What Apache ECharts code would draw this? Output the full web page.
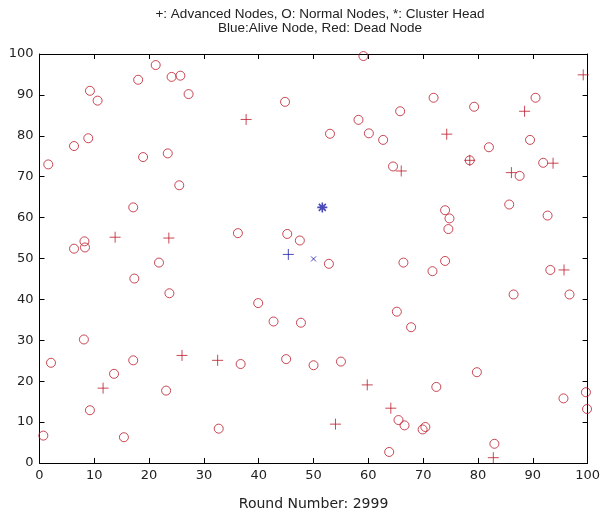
<!DOCTYPE html>
<html>
<head>
<meta charset="utf-8">
<script src="https://cdn.jsdelivr.net/npm/echarts@6/dist/echarts.min.js"></script>
<style>
  html, body { margin: 0; padding: 0; background: #fff; }
  #main { width: 603px; height: 516px; }
</style>
</head>
<body>
<div id="main"></div>
<script>
// O: normal nodes (dead, red)
var normalNodes = [
  [1.6, 73.0], [6.3, 77.5], [8.9, 79.4], [9.2, 91.0], [10.6, 88.6], [18.0, 93.7],
  [21.2, 97.3], [24.1, 94.4], [25.7, 94.7], [27.2, 90.2], [44.8, 88.3], [18.9, 74.8],
  [23.4, 75.7], [25.5, 67.9], [17.1, 62.5], [6.3, 52.4], [8.2, 54.2], [8.3, 52.7],
  [36.2, 56.2], [45.2, 56.0], [47.5, 54.4], [21.8, 49.0], [17.3, 45.1], [23.7, 41.5],
  [39.9, 39.1], [42.7, 34.6], [47.7, 34.3], [8.1, 30.2], [2.1, 24.5], [17.1, 25.1],
  [13.6, 21.8], [36.7, 24.2], [45.0, 25.4], [50.0, 23.9], [23.1, 17.7], [9.2, 12.9],
  [0.7, 6.7], [15.4, 6.3], [32.7, 8.4], [59.1, 99.5], [71.9, 89.3], [79.3, 87.1],
  [90.5, 89.3], [65.8, 86.0], [58.2, 83.9], [53.0, 80.5], [60.1, 80.6], [62.7, 79.0],
  [82.0, 77.2], [89.5, 79.0], [64.5, 72.5], [78.5, 74.0], [87.6, 70.2], [91.9, 73.4],
  [74.0, 61.8], [74.8, 59.8], [74.6, 57.2], [85.7, 63.2], [92.7, 60.5], [52.8, 48.7],
  [66.4, 49.0], [71.7, 46.9], [74.0, 49.4], [93.2, 47.2], [86.5, 41.2], [96.7, 41.2],
  [65.2, 37.0], [67.8, 33.2], [55.0, 24.8], [79.8, 22.2], [72.4, 18.6], [65.5, 10.5],
  [66.6, 9.2], [69.9, 8.2], [70.4, 8.8], [95.6, 15.8], [99.7, 17.3], [99.9, 13.2],
  [83.0, 4.7], [63.8, 2.7]
];
// +: advanced nodes (dead, red)
var advancedNodes = [
  [37.7, 84.0], [13.8, 55.2], [23.6, 55.0], [11.6, 18.3], [26.0, 26.3], [32.5, 25.1],
  [99.2, 94.9], [88.5, 86.0], [74.3, 80.4], [66.0, 71.4], [78.5, 74.0], [86.1, 71.0],
  [93.7, 73.3], [95.7, 47.2], [59.8, 19.1], [64.1, 13.4], [54.0, 9.5], [82.8, 1.3]
];
// blue: alive
var aliveAdvanced = [[45.4, 51.0]];
var clusterHead = [[51.6, 62.5]];
var aliveOther = [[50.0, 49.9]];
var roundNumber = 2999;

var red = "#bb1a2a";
var blue = "#1c1ca8";
var plusPath = "path://M5,0 L5,10 M0,5 L10,5";
var starPath = "path://M5,0 L5,10 M0,5 L10,5 M1.5,1.5 L8.5,8.5 M8.5,1.5 L1.5,8.5";
var crossPath = "path://M0,0 L10,10 M10,0 L0,10";

var chart = echarts.init(document.getElementById("main"));

var baseAxis = {
  type: "value",
  min: 0,
  max: 100,
  interval: 10,
  axisLine: { show: true, onZero: false, lineStyle: { color: "#000", width: 1 } },
  axisTick: { show: true, inside: true, length: 5, lineStyle: { color: "#000" } },
  splitLine: { show: false },
};
var tickLabel = {
  fontFamily: "DejaVu Sans",
  fontSize: 13,
  color: "#222",
  margin: 6,
};

var option = {
  backgroundColor: "#fff",
  animation: false,
  title: {
    text: "+: Advanced Nodes, O: Normal Nodes, *: Cluster Head\nBlue:Alive Node, Red: Dead Node",
    left: 315,
    top: 2,
    textAlign: "center",
    textStyle: {
      fontFamily: "Liberation Sans",
      fontSize: 13.5,
      fontWeight: "normal",
      color: "#222",
      lineHeight: 14,
    },
  },
  grid: {
    left: 39.5,
    right: 13,
    top: 54,
    bottom: 46.5,
  },
  xAxis: [
    Object.assign({}, baseAxis, {
      position: "bottom",
      name: "Round Number: " + roundNumber,
      nameLocation: "middle",
      nameGap: 34,
      nameTextStyle: { fontFamily: "DejaVu Sans", fontSize: 14, color: "#222" },
      axisLabel: tickLabel,
    }),
    Object.assign({}, baseAxis, {
      position: "top",
      axisLabel: { show: false },
    }),
  ],
  yAxis: [
    Object.assign({}, baseAxis, {
      position: "left",
      axisLabel: tickLabel,
    }),
    Object.assign({}, baseAxis, {
      position: "right",
      axisLabel: { show: false },
    }),
  ],
  series: [
    {
      name: "Normal Nodes",
      type: "scatter",
      data: normalNodes,
      symbol: "circle",
      symbolSize: 9,
      clip: false,
      itemStyle: { color: "rgba(0,0,0,0)", borderColor: red, borderWidth: 1 },
    },
    {
      name: "Advanced Nodes",
      type: "scatter",
      data: advancedNodes,
      symbol: plusPath,
      symbolSize: 11,
      clip: false,
      itemStyle: { color: "rgba(0,0,0,0)", borderColor: red, borderWidth: 1 },
    },
    {
      name: "Alive Advanced",
      type: "scatter",
      data: aliveAdvanced,
      symbol: plusPath,
      symbolSize: 11,
      clip: false,
      itemStyle: { color: "rgba(0,0,0,0)", borderColor: blue, borderWidth: 1 },
    },
    {
      name: "Cluster Head",
      type: "scatter",
      data: clusterHead,
      symbol: starPath,
      symbolSize: 10,
      clip: false,
      itemStyle: { color: "rgba(0,0,0,0)", borderColor: blue, borderWidth: 1.6 },
    },
    {
      name: "Alive",
      type: "scatter",
      data: aliveOther,
      symbol: crossPath,
      symbolSize: 5,
      clip: false,
      itemStyle: { color: "rgba(0,0,0,0)", borderColor: blue, borderWidth: 1 },
    },
  ],
};
chart.setOption(option);
</script>
</body>
</html>
